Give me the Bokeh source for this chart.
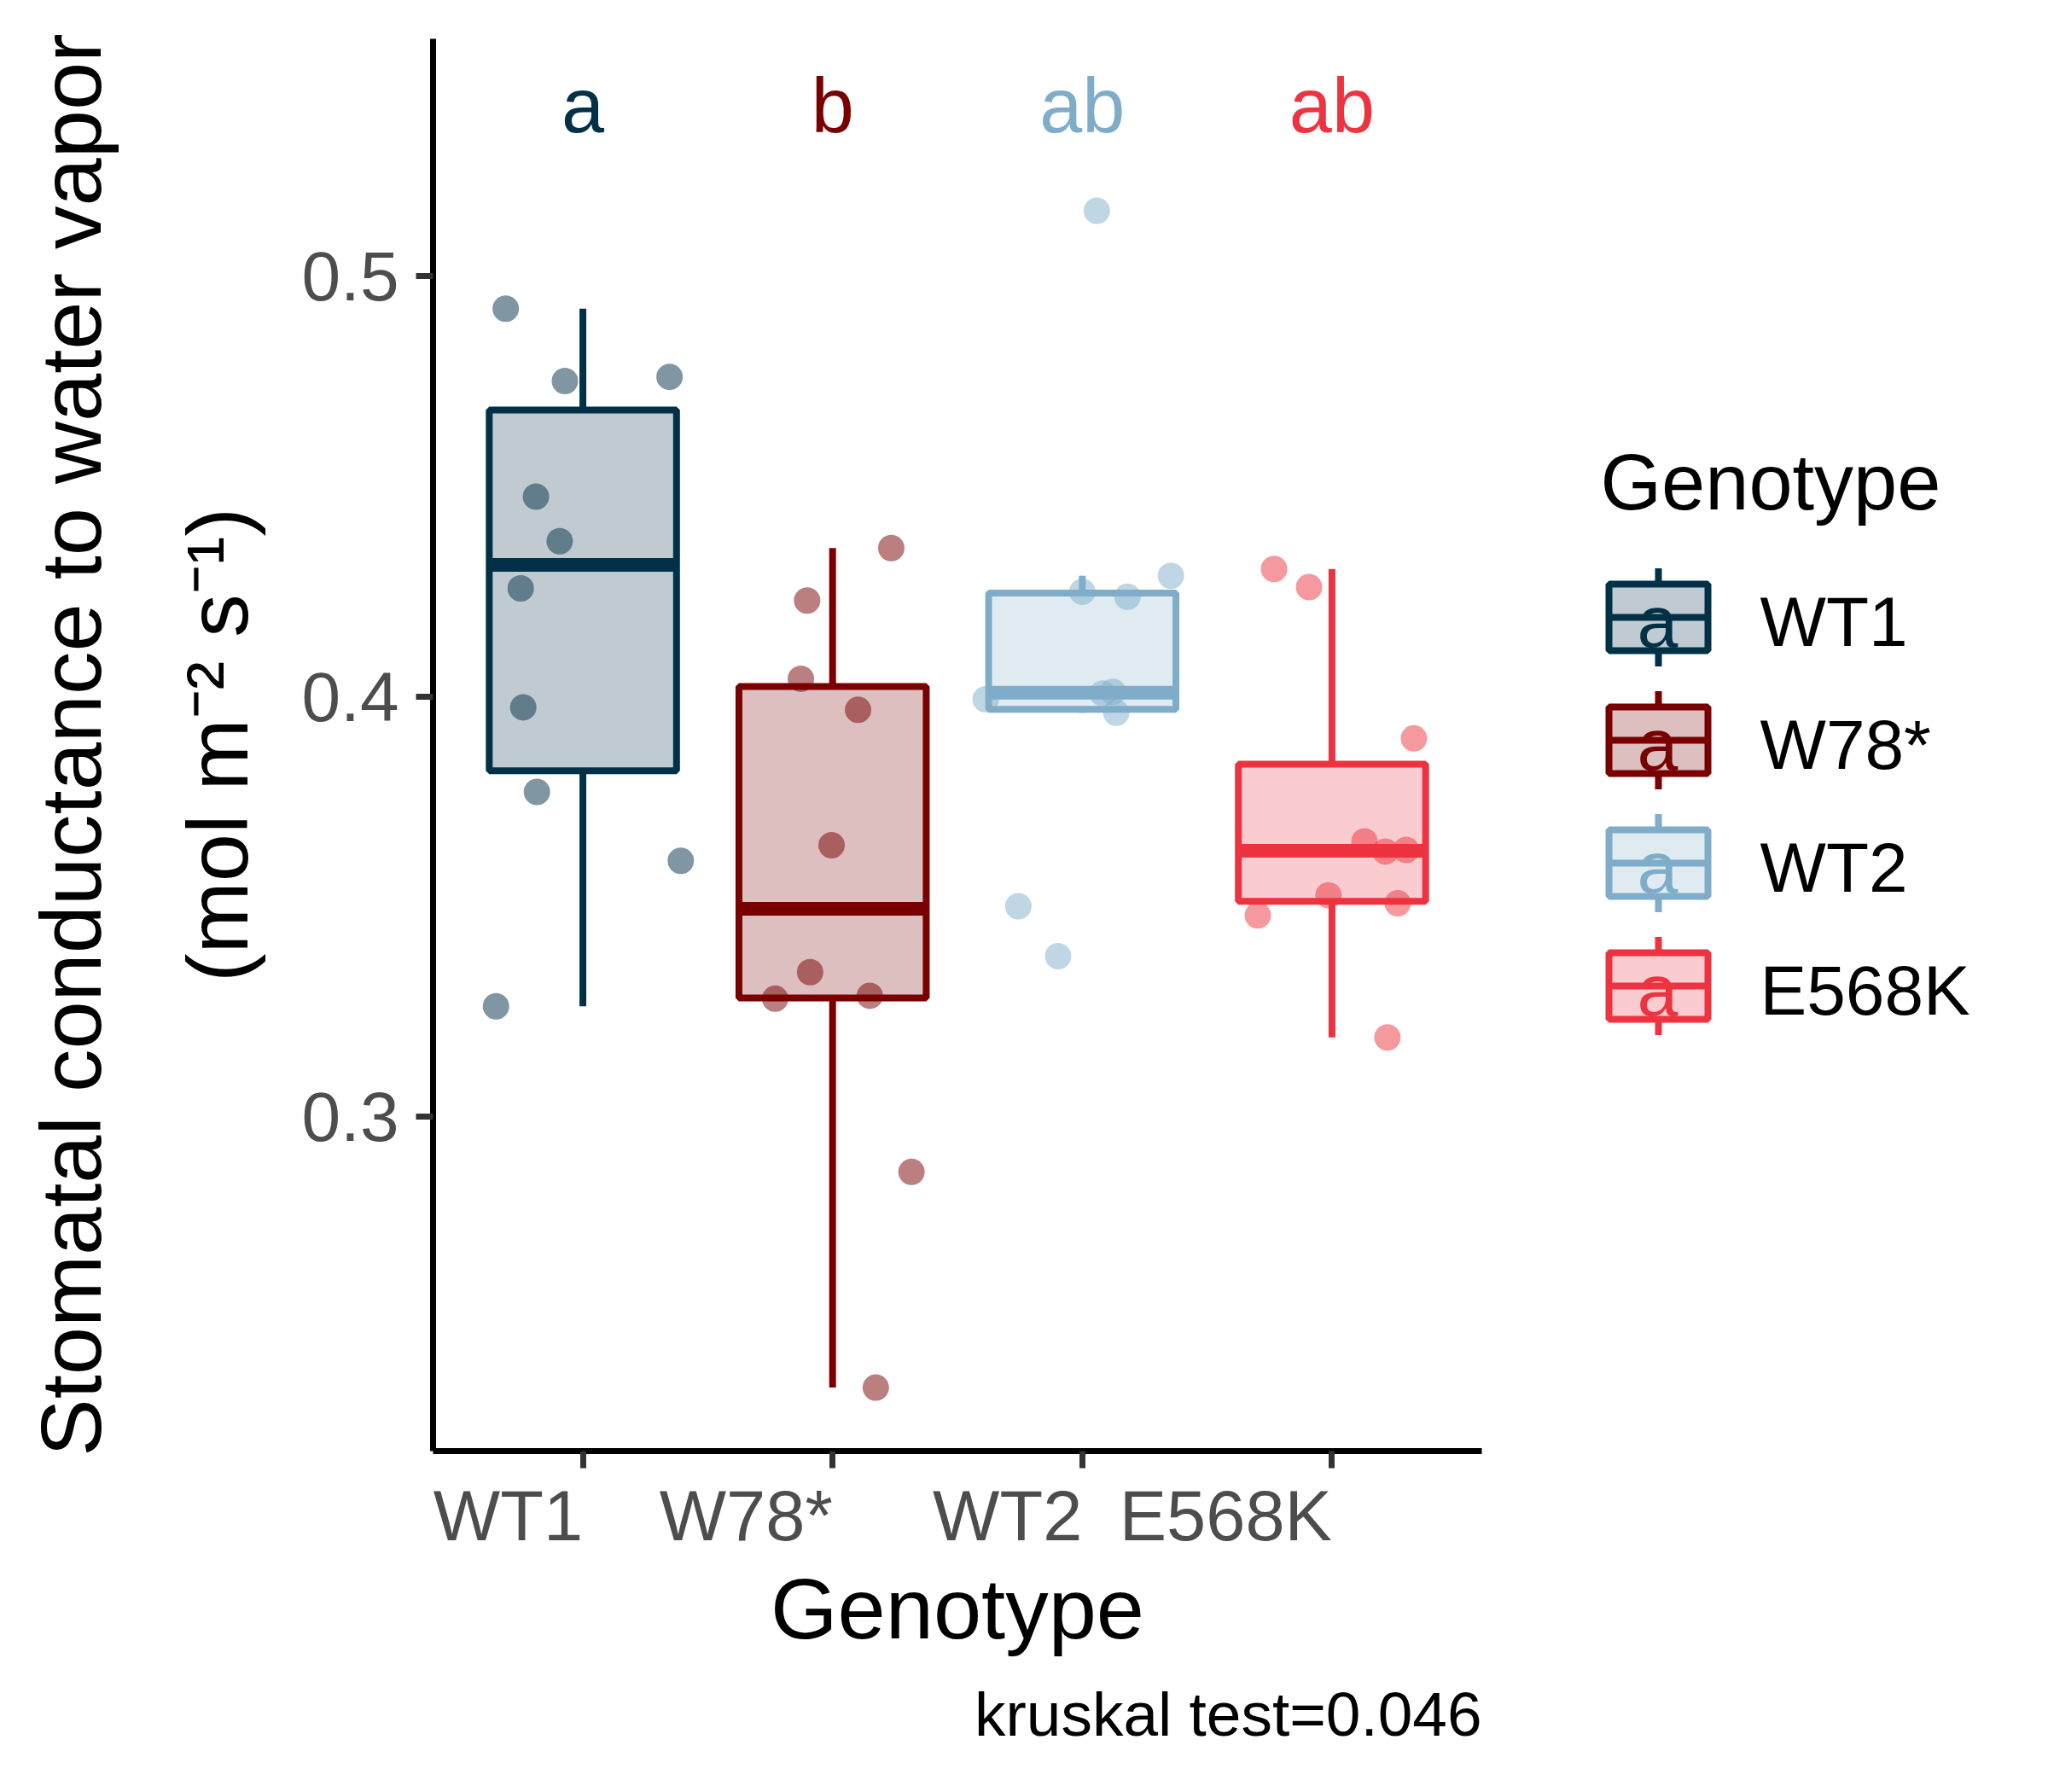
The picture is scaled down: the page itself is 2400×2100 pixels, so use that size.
import numpy as np
from bokeh.plotting import figure
from bokeh.models import Range1d, FixedTicker, LinearAxis, Title, ColumnDataSource
from bokeh.layouts import row
from bokeh.embed import file_html
from bokeh.resources import INLINE
from bokeh.core.properties import value

# ---------------- data ----------------
genotypes = ["WT1", "W78*", "WT2", "E568K"]
colors = ["#023047", "#780000", "#7FADC9", "#EE3340"]
sig_letters = ["a", "b", "ab", "ab"]
letter_y = 0.5405
y_ticks = [0.3, 0.4, 0.5]
kruskal_text = "kruskal test=0.046"

wt1_y = [0.4922, 0.4750, 0.4760, 0.4475, 0.4369, 0.4257, 0.3974, 0.3773, 0.3609, 0.3263]
wt1_dx = [-0.309, -0.072, 0.347, -0.188, -0.093, -0.249, -0.239, -0.184, 0.392, -0.348]
w78_y = [0.4353, 0.4228, 0.4042, 0.3968, 0.3646, 0.3344, 0.3281, 0.3288, 0.2869, 0.2356]
w78_dx = [0.235, -0.102, -0.127, 0.102, -0.004, -0.090, -0.230, 0.149, 0.316, 0.173]
wt2_y = [0.5155, 0.4287, 0.4249, 0.4237, 0.3993, 0.4007, 0.4011, 0.3961, 0.3501, 0.3382]
wt2_dx = [0.058, 0.355, 0.000, 0.181, -0.387, 0.082, 0.122, 0.136, -0.256, -0.097]
e568k_y = [0.4303, 0.4260, 0.3900, 0.3655, 0.3631, 0.3635, 0.3527, 0.3508, 0.3479, 0.3189]
e568k_dx = [-0.232, -0.092, 0.328, 0.130, 0.214, 0.297, -0.014, 0.263, -0.297, 0.222]

group_y = [wt1_y, w78_y, wt2_y, e568k_y]
group_dx = [wt1_dx, w78_dx, wt2_dx, e568k_dx]

FONT = "Liberation Sans"
BOX_W = 0.75
LW = 8

# layout constants (pixels)
FRAME_W, FRAME_H = 1229, 1655
TOP, BOTTOM, LEFT, RIGHT = 45, 380, 507, 72
LEG_W = 576

# ---------------- box statistics ----------------
xs = np.arange(1, len(genotypes) + 1)
q1s, meds, q3s, lows, highs = [], [], [], [], []
for ys in group_y:
    a = np.array(ys)
    q1, med, q3 = np.percentile(a, [25, 50, 75])
    iqr = q3 - q1
    hi = a[a <= q3 + 1.5 * iqr].max()
    lo = a[a >= q1 - 1.5 * iqr].min()
    q1s.append(q1); meds.append(med); q3s.append(q3); lows.append(lo); highs.append(hi)

box_src = ColumnDataSource(dict(
    x=xs, left=xs - BOX_W / 2, right=xs + BOX_W / 2,
    q1=q1s, med=meds, q3=q3s, lo=lows, hi=highs, color=colors,
    letter=sig_letters, ly=[letter_y] * len(genotypes)))

px, py, pc = [], [], []
for i, (ys, dxs) in enumerate(zip(group_y, group_dx)):
    for yv, dv in zip(ys, dxs):
        px.append(xs[i] + dv); py.append(yv); pc.append(colors[i])
pt_src = ColumnDataSource(dict(x=px, y=py, color=pc))

# ---------------- main figure ----------------
p = figure(frame_width=FRAME_W, frame_height=FRAME_H,
           min_border_left=LEFT, min_border_right=RIGHT,
           min_border_top=TOP, min_border_bottom=BOTTOM,
           x_range=Range1d(0.4, 4.6), y_range=Range1d(0.2205, 0.5564),
           output_backend="svg", toolbar_location=None,
           background_fill_color="white", border_fill_color="white")
p.outline_line_color = None
p.grid.visible = False

p.quad(left="left", right="right", bottom="q1", top="q3", source=box_src,
       fill_color="color", fill_alpha=0.25, line_color="color", line_width=LW)
p.segment(x0="x", y0="q3", x1="x", y1="hi", source=box_src, line_color="color", line_width=LW)
p.segment(x0="x", y0="q1", x1="x", y1="lo", source=box_src, line_color="color", line_width=LW)
p.segment(x0="left", y0="med", x1="right", y1="med", source=box_src,
          line_color="color", line_width=2 * LW)

p.scatter(x="x", y="y", source=pt_src, size=31, fill_color="color", fill_alpha=0.5,
          line_color=None)

p.text(x="x", y="ly", text="letter", source=box_src, text_color="color",
       text_font=value(FONT), text_font_size="90px",
       text_align="center", text_baseline="alphabetic")

# x axis
xa = p.xaxis[0]
xa.ticker = FixedTicker(ticks=list(xs))
xa.major_label_overrides = {int(x): g for x, g in zip(xs, genotypes)}
xa.axis_line_width = 7
xa.axis_line_color = "black"
xa.major_tick_line_width = 7
xa.major_tick_line_color = "#333333"
xa.major_tick_out = 20
xa.major_tick_in = 0
xa.minor_tick_line_color = None
xa.major_label_text_font = FONT
xa.major_label_text_font_size = "83px"
xa.major_label_text_color = "#4D4D4D"
xa.major_label_orientation = 1e-4
xa.major_label_standoff = 56
xa.axis_label = "Genotype"
xa.axis_label_text_font = FONT
xa.axis_label_text_font_size = "101px"
xa.axis_label_text_font_style = "normal"
xa.axis_label_text_color = "black"
xa.axis_label_standoff = -44

# y axis
ya = p.yaxis[0]
ya.ticker = FixedTicker(ticks=y_ticks)
ya.major_label_overrides = {t: f"{t:.1f}" for t in y_ticks}
ya.axis_line_width = 7
ya.axis_line_color = "black"
ya.major_tick_line_width = 7
ya.major_tick_line_color = "#333333"
ya.major_tick_out = 20
ya.major_tick_in = 0
ya.minor_tick_line_color = None
ya.major_label_text_font = FONT
ya.major_label_text_font_size = "82px"
ya.major_label_text_color = "#4D4D4D"
ya.major_label_standoff = 20
ya.axis_label = "(mol m\u207b\u00b2 s\u207b\u00b9)"
ya.axis_label_text_font = FONT
ya.axis_label_text_font_size = "101px"
ya.axis_label_text_font_style = "normal"
ya.axis_label_text_color = "black"
ya.axis_label_standoff = 40

ya2 = LinearAxis(ticker=FixedTicker(ticks=[]), axis_line_color=None,
                 major_tick_line_color=None, minor_tick_line_color=None,
                 axis_label="Stomatal conductance to water vapor",
                 axis_label_text_font=FONT, axis_label_text_font_size="101px",
                 axis_label_text_font_style="normal", axis_label_text_color="black",
                 axis_label_standoff=57)
p.add_layout(ya2, "left")

cap = Title(text=kruskal_text, align="right", text_font=FONT, text_font_size="73px",
            text_font_style="normal", text_color="black", standoff=44)
p.add_layout(cap, "below")

# ---------------- legend panel (pixel coordinates inside its frame) ----------------
leg = figure(frame_width=LEG_W, frame_height=FRAME_H,
             min_border_left=0, min_border_right=0,
             min_border_top=TOP, min_border_bottom=BOTTOM,
             x_range=Range1d(0, LEG_W), y_range=Range1d(FRAME_H, 0),
             output_backend="svg", toolbar_location=None,
             x_axis_location=None, y_axis_location=None,
             background_fill_color="white", border_fill_color="white")
leg.outline_line_color = None
leg.grid.visible = False

key_cx, key_w, key_h, whisk = 135, 116, 78, 57.5
row0, row_step = 678, 144
cy = [row0 + row_step * i for i in range(len(genotypes))]
n = len(cy)
leg_src = ColumnDataSource(dict(
    cy=cy, color=colors, label=genotypes, akey=["a"] * n,
    top=[c - key_h / 2 for c in cy], bot=[c + key_h / 2 for c in cy],
    wt=[c - whisk for c in cy], wb=[c + whisk for c in cy],
    cx=[key_cx] * n, l=[key_cx - key_w / 2] * n, r=[key_cx + key_w / 2] * n,
    ay=[c + 4 for c in cy], ly=[c + 5 for c in cy], lx=[254] * n, ax=[key_cx - 1] * n))

leg.quad(left="l", right="r", top="top", bottom="bot", source=leg_src,
         fill_color="color", fill_alpha=0.25, line_color="color", line_width=LW)
leg.segment(x0="cx", y0="wt", x1="cx", y1="top", source=leg_src, line_color="color", line_width=LW)
leg.segment(x0="cx", y0="bot", x1="cx", y1="wb", source=leg_src, line_color="color", line_width=LW)
leg.segment(x0="l", y0="cy", x1="r", y1="cy", source=leg_src, line_color="color", line_width=LW)
leg.text(x="ax", y="ay", text="akey", source=leg_src, text_color="color",
         text_font=value(FONT), text_font_size="86px", text_align="center",
         text_baseline="alphabetic")
leg.text(x="lx", y="ly", text="label", source=leg_src, text_color="black",
         text_font=value(FONT), text_font_size="82px", text_align="left",
         text_baseline="alphabetic")
leg.text(x=[67], y=[519], text=["Genotype"], text_color="black",
         text_font=value(FONT), text_font_size="92px", text_align="left",
         text_baseline="alphabetic")

layout = row(p, leg)
open("out.html", "w").write(file_html(layout, INLINE))
